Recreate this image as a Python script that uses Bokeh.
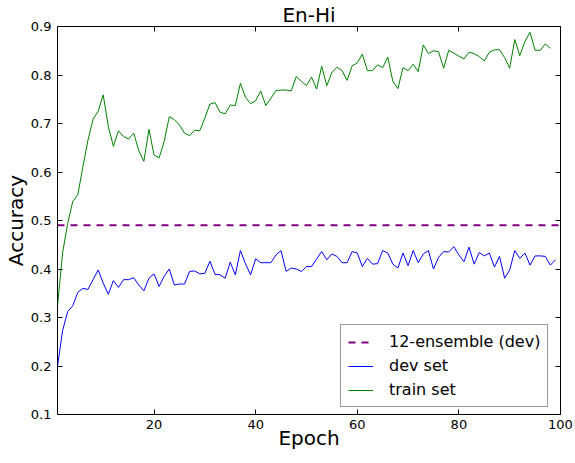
from bokeh.plotting import figure
from bokeh.models import Range1d, LinearAxis, FixedTicker, Legend, LegendItem, Title
from bokeh.embed import file_html
from bokeh.resources import INLINE

epochs = list(range(1, 100))
train_acc = [0.323, 0.433, 0.494, 0.539, 0.553, 0.611, 0.666, 0.709, 0.725, 0.759,
             0.694, 0.653, 0.685, 0.673, 0.668, 0.680, 0.644, 0.622, 0.688, 0.635,
             0.629, 0.663, 0.714, 0.708, 0.697, 0.680, 0.675, 0.686, 0.685, 0.711,
             0.740, 0.743, 0.723, 0.720, 0.738, 0.737, 0.783, 0.754, 0.741, 0.747,
             0.767, 0.737, 0.752, 0.768, 0.769, 0.769, 0.767, 0.797, 0.787, 0.778,
             0.796, 0.771, 0.818, 0.778, 0.805, 0.816, 0.809, 0.789, 0.819, 0.825,
             0.843, 0.809, 0.809, 0.821, 0.815, 0.837, 0.787, 0.772, 0.815, 0.809,
             0.822, 0.807, 0.862, 0.844, 0.850, 0.848, 0.814, 0.851, 0.845, 0.839,
             0.833, 0.847, 0.844, 0.838, 0.829, 0.847, 0.852, 0.852, 0.836, 0.814,
             0.873, 0.840, 0.869, 0.888, 0.851, 0.851, 0.864, 0.855]
dev_acc = [0.199, 0.273, 0.312, 0.324, 0.352, 0.360, 0.358, 0.378, 0.398, 0.371,
           0.348, 0.376, 0.362, 0.378, 0.378, 0.382, 0.367, 0.355, 0.381, 0.390,
           0.364, 0.385, 0.400, 0.367, 0.369, 0.369, 0.395, 0.396, 0.390, 0.391,
           0.416, 0.389, 0.388, 0.381, 0.414, 0.388, 0.438, 0.411, 0.388, 0.421,
           0.413, 0.413, 0.413, 0.429, 0.438, 0.395, 0.402, 0.400, 0.395, 0.405,
           0.405, 0.421, 0.436, 0.419, 0.431, 0.426, 0.413, 0.413, 0.436, 0.433,
           0.405, 0.422, 0.410, 0.411, 0.438, 0.433, 0.410, 0.402, 0.433, 0.407,
           0.438, 0.413, 0.431, 0.438, 0.400, 0.424, 0.436, 0.435, 0.446, 0.429,
           0.415, 0.445, 0.410, 0.434, 0.427, 0.433, 0.404, 0.426, 0.381, 0.398,
           0.438, 0.422, 0.433, 0.408, 0.427, 0.427, 0.426, 0.408, 0.419]
ensemble_dev = 0.49
x_ticks = [20, 40, 60, 80, 100]
y_ticks = [0.1, 0.2, 0.3, 0.4, 0.5, 0.6, 0.7, 0.8, 0.9]

FONT = "DejaVu Sans"

p = figure(frame_width=503, frame_height=388, output_backend="svg", toolbar_location=None,
           x_range=Range1d(1, 100), y_range=Range1d(0.1, 0.9),
           min_border_left=51, min_border_right=13, min_border_top=22, min_border_bottom=37)
p.title = Title(text="En-Hi", align="center", text_font=FONT, text_font_size="20px",
                text_font_style="normal", text_color="black", standoff=0)
p.grid.visible = False
p.outline_line_color = "black"
p.outline_line_width = 1
p.background_fill_color = "white"
p.border_fill_color = "white"

for ax in p.xaxis:
    ax.ticker = FixedTicker(ticks=x_ticks)
for ax in p.yaxis:
    ax.ticker = FixedTicker(ticks=y_ticks)

def style_axis(ax, labels=True):
    ax.axis_line_color = None
    ax.major_tick_in = 5
    ax.major_tick_out = 0
    ax.major_tick_line_color = "black"
    ax.minor_tick_line_color = None
    ax.major_label_text_font = FONT
    ax.major_label_text_font_size = "13px"
    ax.major_label_text_color = "black"
    ax.axis_label_text_font = FONT
    ax.axis_label_text_font_size = "20px"
    ax.axis_label_text_font_style = "normal"
    ax.axis_label_text_color = "black"
    if not labels:
        ax.major_label_text_alpha = 0
        ax.major_label_text_font_size = "1px"
        ax.major_label_standoff = 0
        ax.axis_label_standoff = 0

style_axis(p.xaxis[0])
style_axis(p.yaxis[0])
p.xaxis[0].axis_label = "Epoch"
p.yaxis[0].axis_label = "Accuracy"
p.xaxis[0].major_label_standoff = 5
p.yaxis[0].major_label_standoff = 6
p.xaxis[0].axis_label_standoff = -6
p.yaxis[0].axis_label_standoff = 0

top_ax = LinearAxis(ticker=FixedTicker(ticks=x_ticks))
right_ax = LinearAxis(ticker=FixedTicker(ticks=y_ticks))
style_axis(top_ax, labels=False)
style_axis(right_ax, labels=False)
top_ax.major_label_standoff = 5
p.add_layout(top_ax, "above")
p.add_layout(right_ax, "right")

r_ens = p.line(x=[epochs[0], 100], y=[ensemble_dev, ensemble_dev], line_color="purple",
               line_width=2, line_dash="7 6")
r_dev = p.line(x=epochs[:len(dev_acc)], y=dev_acc, line_color="#0000ff", line_width=1)
r_train = p.line(x=epochs[:len(train_acc)], y=train_acc, line_color="#008000", line_width=1)

legend = Legend(items=[LegendItem(label="12-ensemble (dev)", renderers=[r_ens]),
                       LegendItem(label="dev set", renderers=[r_dev]),
                       LegendItem(label="train set", renderers=[r_train])],
                location=(283, 7))
legend.label_text_font = FONT
legend.label_text_font_size = "16px"
legend.label_text_color = "black"
legend.glyph_width = 25
legend.glyph_height = 18
legend.label_height = 18
legend.label_standoff = 16
legend.spacing = 5
legend.padding = 7
legend.margin = 0
legend.border_line_color = "#333333"
legend.border_line_width = 1
legend.background_fill_alpha = 1
p.add_layout(legend, "center")

open("out.html", "w").write(file_html(p, INLINE))
